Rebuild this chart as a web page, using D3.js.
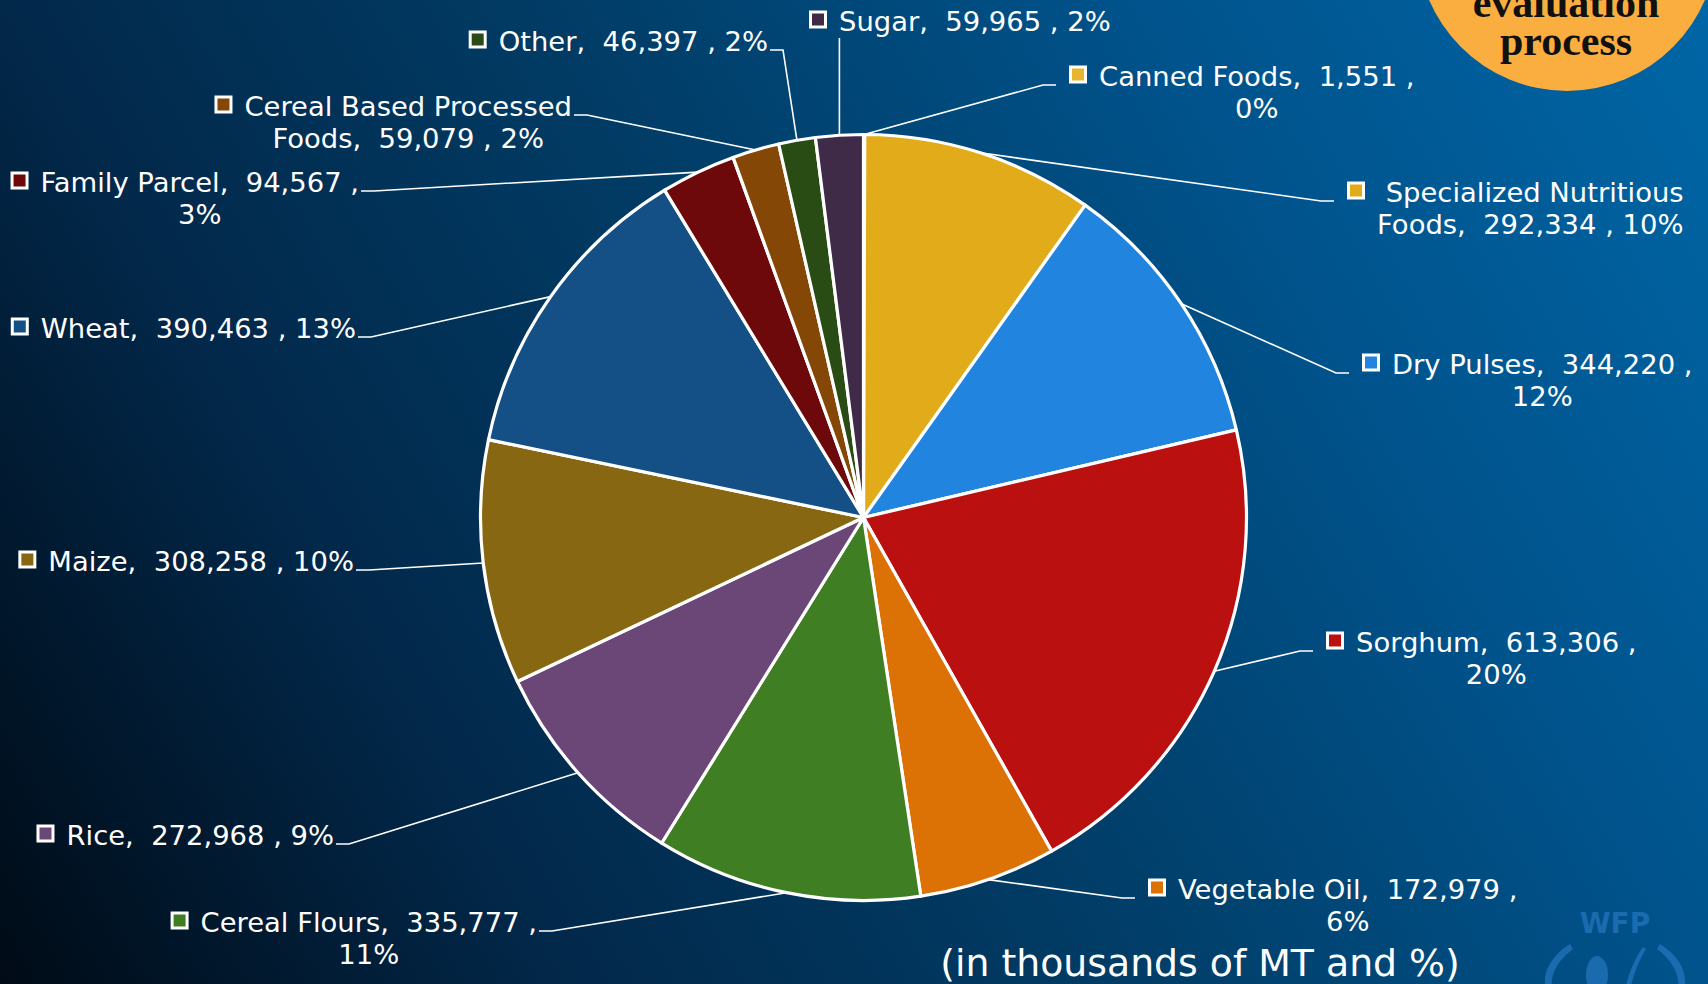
<!DOCTYPE html>
<html>
<head>
<meta charset="utf-8">
<script src="https://cdn.jsdelivr.net/npm/d3@7"></script>
<style>
    html, body { margin: 0; padding: 0; overflow: hidden; background: #012a48; }
    svg { display: block; }
    .label { font-family: "DejaVu Sans", Verdana, sans-serif; font-size: 27.4px; fill: #fff; white-space: pre; }
    .subtitle { font-family: "DejaVu Sans", Verdana, sans-serif; font-size: 37.8px; fill: #fff; }
    .badge-text { font-family: "Liberation Serif", "DejaVu Serif", serif; font-weight: bold; font-size: 42px; fill: #111; }
</style>
</head>
<body>
<div id="chart"></div>
<script>
// Commodity tonnage (thousands of MT) in the order the slices run clockwise from 12 o'clock
const categories = ["Canned Foods", "Specialized Nutritious Foods", "Dry Pulses", "Sorghum", "Vegetable Oil",
    "Cereal Flours", "Rice", "Maize", "Wheat", "Family Parcel", "Cereal Based Processed Foods", "Other", "Sugar"];
const tonnage = [1551, 292334, 344220, 613306, 172979, 335777, 272968, 308258, 390463, 94567, 59079, 46397, 59965];
const percentLabels = ["0%", "10%", "12%", "20%", "6%", "11%", "9%", "10%", "13%", "3%", "2%", "2%", "2%"];
const sliceColours = ["#e8b52f", "#e1ab19", "#2185e0", "#bb1010", "#dc7105", "#3f7e22", "#6b4778",
    "#876711", "#144f86", "#6e090b", "#844705", "#284c13", "#3f2a48"];

// Label placement (Excel style): left labels anchored at the right end of their first line,
// right labels anchored at the left edge of their legend key
const labelLayout = {
    "Canned Foods": {side: "right", x: 1069, y: 76, br: "pct"},
    "Specialized Nutritious Foods": {side: "right", x: 1347, y: 192, br: 2, lead: true},
    "Dry Pulses": {side: "right", x: 1362, y: 364, br: "pct"},
    "Sorghum": {side: "right", x: 1326, y: 642, br: "pct"},
    "Vegetable Oil": {side: "right", x: 1148, y: 889, br: "pct"},
    "Cereal Flours": {side: "left", x: 537, y: 922, br: "pct"},
    "Rice": {side: "left", x: 334, y: 835},
    "Maize": {side: "left", x: 354, y: 561},
    "Wheat": {side: "left", x: 356, y: 328},
    "Family Parcel": {side: "left", x: 359, y: 182, br: "pct"},
    "Cereal Based Processed Foods": {side: "left", x: 572, y: 106, br: 3},
    "Other": {side: "left", x: 768, y: 41},
    "Sugar": {side: "top", x: 809, y: 21}
};

const width = 1708, height = 984;
const cx = 863.5, cy = 517.5, radius = 383;
const lineGap = 32.5;
const fmt = d3.format(",");

const svg = d3.select("#chart").append("svg")
    .attr("width", width)
    .attr("height", height);

// Background gradient, dark navy bottom-left to bright blue top-right
const defs = svg.append("defs");
const grad = defs.append("linearGradient")
    .attr("id", "bg")
    .attr("gradientUnits", "userSpaceOnUse")
    .attr("x1", 0).attr("y1", height)
    .attr("x2", width).attr("y2", 0);
[[0, "#000b16"], [0.25, "#02284a"], [0.5, "#013d67"], [0.75, "#00538c"], [1, "#0066a6"]]
    .forEach(([o, c]) => grad.append("stop").attr("offset", o).attr("stop-color", c));

svg.append("rect")
    .attr("width", width)
    .attr("height", height)
    .attr("fill", "url(#bg)");

// Pie
const data = categories.map((name, i) => ({name, value: tonnage[i], pct: percentLabels[i], colour: sliceColours[i]}));

const pie = d3.pie()
    .value(d => d.value)
    .sort(null);

const arc = d3.arc()
    .innerRadius(0)
    .outerRadius(radius);

const edgeArc = d3.arc()
    .innerRadius(radius)
    .outerRadius(radius);

const arcs = pie(data);

const g = svg.append("g")
    .attr("transform", `translate(${cx}, ${cy})`);

g.selectAll(".slice")
    .data(arcs)
    .join("path")
    .attr("class", "slice")
    .attr("d", arc)
    .attr("fill", d => d.data.colour)
    .attr("stroke", "#fff")
    .attr("stroke-width", 3.2)
    .attr("stroke-linejoin", "round");

// Split a label into its wrapped lines
function labelLines(d) {
    const lay = labelLayout[d.name];
    const value = fmt(d.value);
    if (lay.br === "pct") {
        return [`${d.name},  ${value} ,`, d.pct];
    }
    if (typeof lay.br === "number") {
        const words = d.name.split(" ");
        const first = (lay.lead ? " " : "") + words.slice(0, lay.br).join(" ");
        const rest = words.slice(lay.br).join(" ");
        return [first, `${rest},  ${value} , ${d.pct}`];
    }
    return [`${d.name},  ${value} , ${d.pct}`];
}

const labels = svg.append("g").attr("class", "labels");
const leaders = svg.append("g").attr("class", "leaders");

arcs.forEach(a => {
    const d = a.data;
    const lay = labelLayout[d.name];
    const lines = labelLines(d);

    const grp = labels.append("g");
    const texts = lines.map(t => grp.append("text")
        .attr("class", "label")
        .attr("text-anchor", "middle")
        .text(t));
    const w1 = texts[0].node().getComputedTextLength();

    // first line left edge
    let textLeft;
    if (lay.side === "left") {
        textLeft = lay.x - w1;
    } else {
        textLeft = lay.x + 30;
    }
    const centre = textLeft + w1 / 2;
    texts.forEach((t, i) => t
        .attr("x", centre)
        .attr("y", lay.y + i * lineGap)
        .attr("dy", "0.36em"));

    // legend key
    grp.append("rect")
        .attr("x", textLeft - 28.5)
        .attr("y", lay.y - 9)
        .attr("width", 15)
        .attr("height", 15)
        .attr("fill", d.colour)
        .attr("stroke", "#fff")
        .attr("stroke-width", 3);

    // leader line from slice edge
    const [ex, ey] = edgeArc.centroid(a);
    const p0 = [cx + ex, cy + ey];
    let pts;
    if (lay.side === "top") {
        pts = [p0, [p0[0], lay.y + 17]];
    } else if (lay.side === "left") {
        pts = [p0, [lay.x + 15, lay.y + 9], [lay.x + 2, lay.y + 9]];
    } else {
        pts = [p0, [lay.x - 26, lay.y + 9], [lay.x - 13, lay.y + 9]];
    }
    leaders.append("path")
        .attr("d", d3.line()(pts))
        .attr("fill", "none")
        .attr("stroke", "#fff")
        .attr("stroke-width", 1.6);
});

// Subtitle
svg.append("text")
    .attr("class", "subtitle")
    .attr("x", 1200)
    .attr("y", 976)
    .attr("text-anchor", "middle")
    .text("(in thousands of MT and %)");

// Orange badge, top right
svg.append("circle")
    .attr("cx", 1567)
    .attr("cy", -59)
    .attr("r", 150)
    .attr("fill", "#fbae40");

svg.append("text")
    .attr("class", "badge-text")
    .attr("x", 1566)
    .attr("y", 17)
    .attr("text-anchor", "middle")
    .text("evaluation");

svg.append("text")
    .attr("class", "badge-text")
    .attr("x", 1566)
    .attr("y", 55)
    .attr("text-anchor", "middle")
    .text("process");

// Faint WFP emblem, bottom right
const logo = svg.append("g")
    .attr("fill", "#1f70b6")
    .attr("opacity", 0.85);

logo.append("text")
    .attr("x", 1615)
    .attr("y", 933)
    .attr("text-anchor", "middle")
    .attr("font-family", "DejaVu Sans, sans-serif")
    .attr("font-weight", "bold")
    .attr("font-size", 28)
    .text("WFP");

logo.append("path")
    .attr("d", "M1570,944 C1548,958 1542,975 1546,990 L1552,990 C1550,976 1556,962 1573,949 Z");
logo.append("path")
    .attr("d", "M1660,944 C1682,958 1688,975 1684,990 L1678,990 C1680,976 1674,962 1657,949 Z");
logo.append("ellipse")
    .attr("cx", 1597).attr("cy", 975).attr("rx", 11).attr("ry", 19);
logo.append("path")
    .attr("d", "M1625,990 C1628,975 1634,960 1643,947 L1646,949 C1638,962 1633,976 1630,990 Z");
</script>
</body>
</html>
